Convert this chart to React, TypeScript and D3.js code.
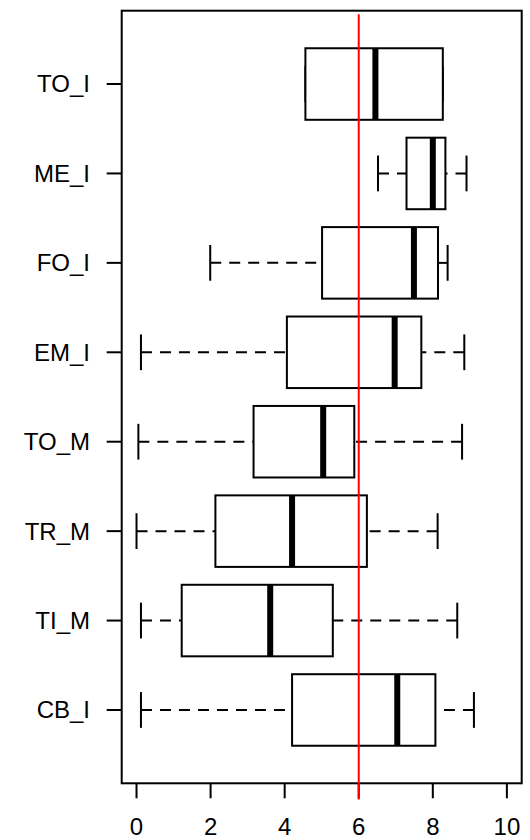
import React from 'react'
import * as d3 from 'd3'

// categories from bottom (position 1) to top (position 8)
const categories = ['CB_I', 'TI_M', 'TR_M', 'TO_M', 'EM_I', 'FO_I', 'ME_I', 'TO_I']
const whiskerLow = [0.12, 0.12, 0.0, 0.05, 0.12, 1.99, 6.52, 4.56]
const q1 = [4.2, 1.22, 2.13, 3.16, 4.06, 5.01, 7.29, 4.56]
const medians = [7.04, 3.61, 4.2, 5.04, 6.97, 7.49, 8.0, 6.45]
const q3 = [8.07, 5.3, 6.22, 5.88, 7.69, 8.14, 8.34, 8.27]
const whiskerHigh = [9.11, 8.66, 8.13, 8.79, 8.85, 8.4, 8.91, 8.27]
const xTicks = [0, 2, 4, 6, 8, 10]
const refValue = 6

const width = 530
const height = 840
const margin = { left: 121.7, right: 8.3, top: 10.7, bottom: 56.7 }
const font = '"Liberation Sans", Arial, sans-serif'

export default function App() {
  if (typeof document !== 'undefined') document.body.style.margin = '0'

  const x = d3.scaleLinear().domain([-0.4, 10.4]).range([margin.left, width - margin.right])
  const y = d3.scaleLinear().domain([0.18, 8.82]).range([height - margin.bottom, margin.top])

  const boxHalf = (y(0) - y(0.4))
  const capHalf = (y(0) - y(0.2))
  const plotBottom = y(0.18)

  return (
    <svg width={width} height={height} style={{ position: 'absolute', left: 0, top: 0, display: 'block' }}>
      <rect width={width} height={height} fill="#fff" />

      {categories.map((name, i) => {
        const cy = y(i + 1)
        return (
          <g key={name}>
            {/* whiskers, dashed from cap towards box */}
            <line x1={x(whiskerLow[i])} x2={x(q1[i])} y1={cy} y2={cy}
              stroke="#000" strokeWidth={2} strokeDasharray="11 8" />
            <line x1={x(whiskerHigh[i])} x2={x(q3[i])} y1={cy} y2={cy}
              stroke="#000" strokeWidth={2} strokeDasharray="11 8" />
            {/* caps */}
            <line x1={x(whiskerLow[i])} x2={x(whiskerLow[i])} y1={cy - capHalf} y2={cy + capHalf}
              stroke="#000" strokeWidth={2} />
            <line x1={x(whiskerHigh[i])} x2={x(whiskerHigh[i])} y1={cy - capHalf} y2={cy + capHalf}
              stroke="#000" strokeWidth={2} />
            {/* box */}
            <rect x={x(q1[i])} y={cy - boxHalf} width={x(q3[i]) - x(q1[i])} height={boxHalf * 2}
              fill="#fff" stroke="#000" strokeWidth={2} />
            {/* median */}
            <line x1={x(medians[i])} x2={x(medians[i])} y1={cy - boxHalf} y2={cy + boxHalf}
              stroke="#000" strokeWidth={6} />
            {/* y tick + label */}
            <line x1={margin.left - 15} x2={margin.left} y1={cy} y2={cy} stroke="#000" strokeWidth={2} />
            <text x={90} y={cy} dy="0.35em" textAnchor="end" fontFamily={font} fontSize={24} fill="#000">
              {name}
            </text>
          </g>
        )
      })}

      {/* plot frame */}
      <rect x={margin.left} y={margin.top} width={width - margin.left - margin.right}
        height={plotBottom - margin.top} fill="none" stroke="#000" strokeWidth={2} />

      {/* x axis ticks */}
      {xTicks.map(t => (
        <g key={t}>
          <line x1={x(t)} x2={x(t)} y1={plotBottom} y2={plotBottom + 15} stroke="#000" strokeWidth={2} />
          <text x={x(t)} y={835} textAnchor="middle" fontFamily={font} fontSize={24} fill="#000">{t}</text>
        </g>
      ))}

      {/* reference line */}
      <line x1={x(refValue)} x2={x(refValue)} y1={y(8.78)} y2={y(0)} stroke="#ff0000" strokeWidth={2} />
    </svg>
  )
}
